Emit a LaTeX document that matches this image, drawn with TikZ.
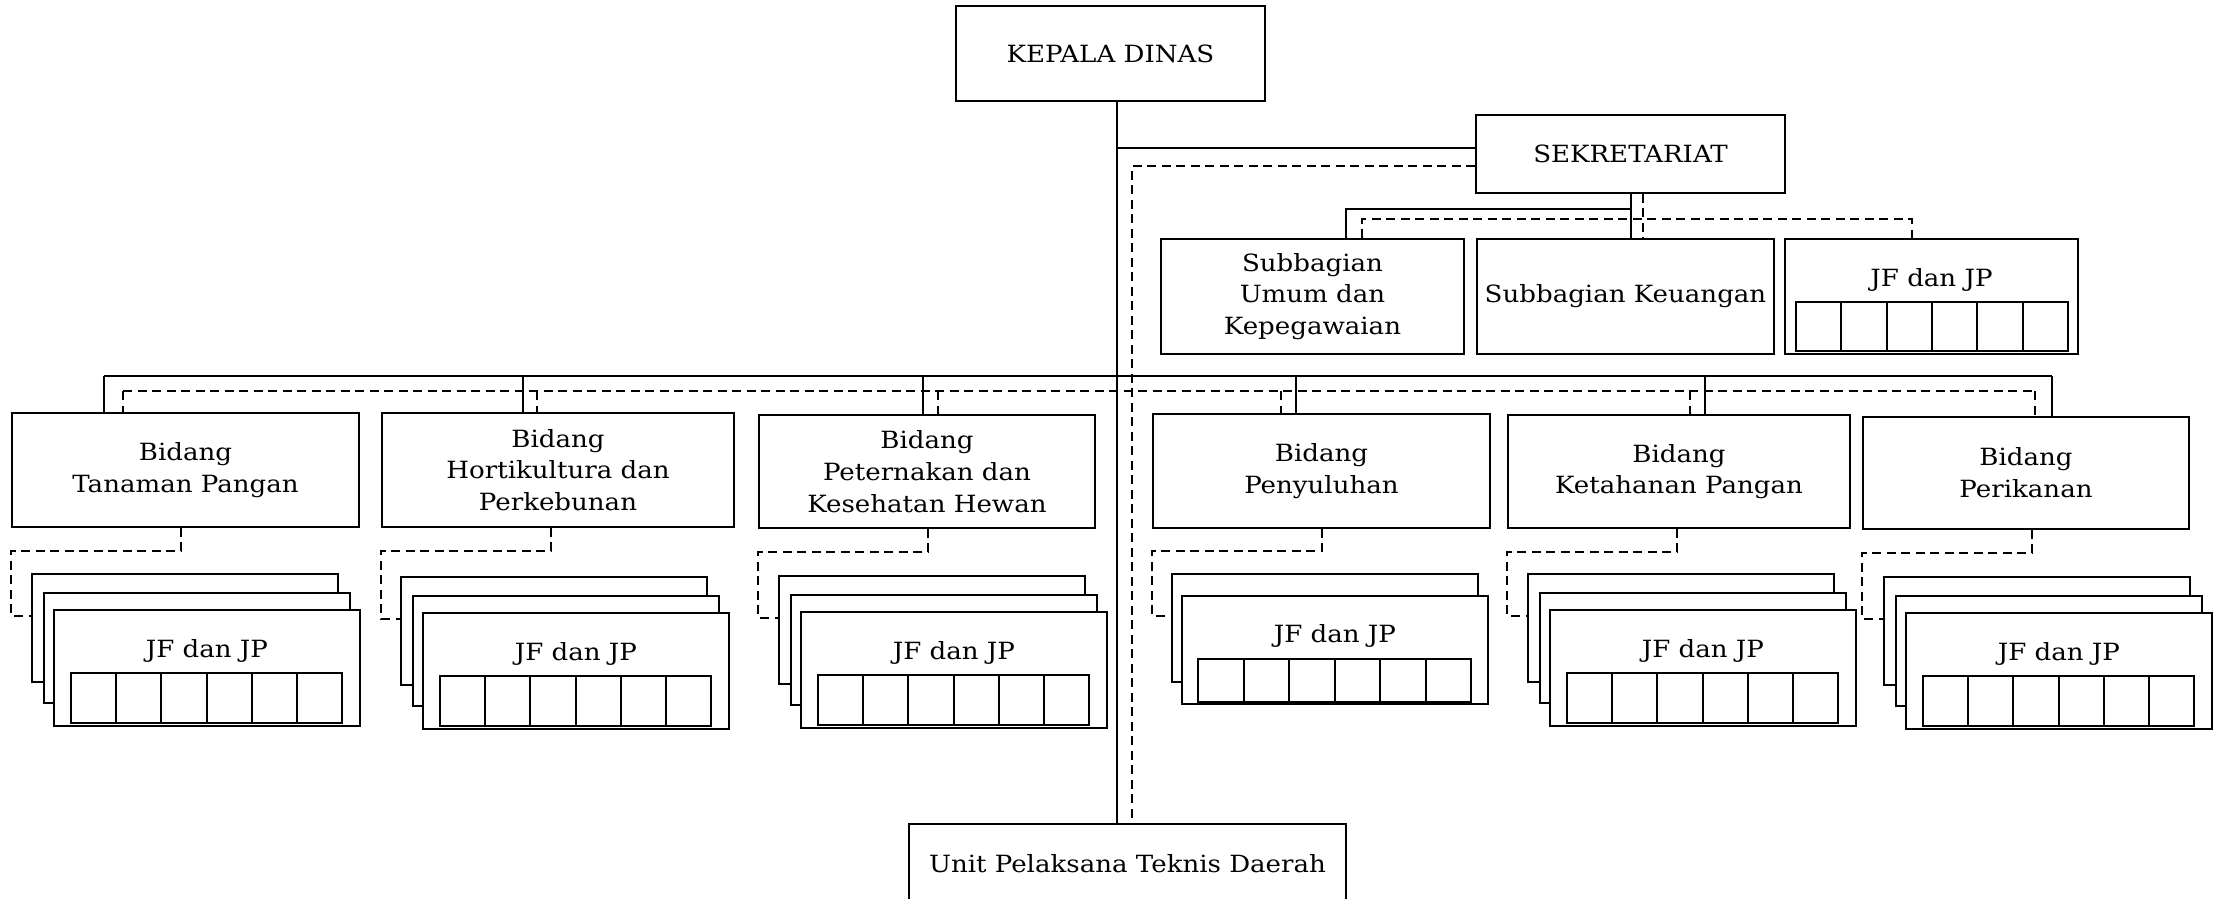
\documentclass[tikz,border=0pt]{standalone}
\usepackage{fontspec}
\setmainfont{DejaVu Serif}[FakeStretch=1.1]
\usetikzlibrary{calc}
\tikzset{
  box/.style={draw, line width=1.8pt, fill=white, inner sep=0pt, align=center,
    font=\fontsize{23.7}{31.7}\selectfont},
  lbl/.style={inner sep=0pt, font=\fontsize{23.7}{31.7}\selectfont},
  conn/.style={line width=1.8pt},
  dconn/.style={line width=1.6pt, dash pattern=on 9pt off 5.5pt},
  cell/.style={line width=2pt},
}
\newcommand\jfgrid[2]{% #1 = node, #2 = vertical offset of grid top
  \foreach \i in {0,...,5}
    \draw[cell] ($(#1.north west)+(18+\i*45.2,#2)$) rectangle ++(45.2,50);
}
\newcommand\jfstack[4]{% #1 id, #2 bidang node, #3 x, #4 y (back box top-left)
  \node[box, anchor=north west, minimum width=306, minimum height=108] (#1-a) at (#3,#4) {};
  \node[box, anchor=north west, minimum width=306, minimum height=110] (#1-b) at ({#3+12},{#4+19}) {};
  \node[box, anchor=north west, minimum width=306, minimum height=116] (#1-c) at ({#3+22},{#4+36}) {};
  \node[lbl] (#1-t) at ($(#1-c.north)+(0,42)$) {JF dan JP};
  \jfgrid{#1-c}{64}
  \draw[dconn] ($(#2.south west)+(170,0)$) |- ($(#2.south west)+(0,23)$) |- ($(#1-a.north west)+(0,43)$);
}
\begin{document}
\begin{tikzpicture}[x=1pt,y=-1pt]
\useasboundingbox (0,0) rectangle (2220,898);

% top level
\node[box, minimum width=309, minimum height=95] (kepala) at (1110.5,53.5) {KEPALA DINAS};
\node[box, minimum width=309, minimum height=78] (sekr) at (1630.5,154) {SEKRETARIAT};
\node[box, minimum width=303, minimum height=115] (umum) at (1312.5,296.5) {Subbagian\\Umum dan\\Kepegawaian};
\node[box, minimum width=297, minimum height=115] (keu) at (1625.5,296.5) {Subbagian Keuangan};
\node[box, minimum width=293, minimum height=115] (jfs) at (1931.5,296.5) {};
\node[lbl] (jfst) at ($(jfs.north)+(0,42)$) {JF dan JP};
\foreach \i in {0,...,5}
  \draw[cell] ($(jfs.north west)+(12+\i*45.3,64)$) rectangle ++(45.3,49);

% bidang
\node[box, minimum width=347, minimum height=114] (tan) at (185.5,470) {Bidang\\Tanaman Pangan};
\node[box, minimum width=352, minimum height=114] (hor) at (558,470) {Bidang\\Hortikultura dan\\Perkebunan};
\node[box, minimum width=336, minimum height=113] (pet) at (927,471.5) {Bidang\\Peternakan dan\\Kesehatan Hewan};
\node[box, minimum width=337, minimum height=114] (pen) at (1321.5,471) {Bidang\\Penyuluhan};
\node[box, minimum width=342, minimum height=113] (ket) at (1679,471.5) {Bidang\\Ketahanan Pangan};
\node[box, minimum width=326, minimum height=112] (per) at (2026,473) {Bidang\\Perikanan};

% UPTD
\node[box, minimum width=437, minimum height=80] (uptd) at (1127.5,864) {Unit Pelaksana Teknis Daerah};

% junction coordinates
\coordinate (tx) at (1117,0);
\coordinate (dx) at (1132,0);
\coordinate (hs) at (0,148);
\coordinate (hsd) at (0,166);
\coordinate (sx) at (1631,0);
\coordinate (sdx) at (1643,0);
\coordinate (y1) at (0,209);
\coordinate (y2) at (0,219);
\coordinate (ux) at (1346,0);
\coordinate (uxd) at (1362,0);
\coordinate (jx) at (1912,0);
\coordinate (ml) at (104,376);
\coordinate (mr) at (2052,376);
\coordinate (dl) at (123,391);
\coordinate (dr) at (2035,391);

% trunk and secretariat links
\draw[conn] (kepala.south -| tx) -- (uptd.north -| tx);
\draw[conn] (tx |- hs) -- (sekr.west |- hs);
\draw[dconn] (sekr.west |- hsd) -| (uptd.north -| dx);

% secretariat children
\draw[conn] (sekr.south -| sx) -- (keu.north -| sx);
\draw[conn] (sx |- y1) -| (umum.north -| ux);
\draw[dconn] (sekr.south -| sdx) -- (keu.north -| sdx);
\draw[dconn] (umum.north -| uxd) |- (jx |- y2) -- (jfs.north -| jx);

% main bus
\draw[conn] (ml) -- (mr);
\draw[dconn] (dl) -- (dr);
\foreach \n/\s/\d in {tan/104/123, hor/523/537, pet/923/938, pen/1296/1281, ket/1705/1690, per/2052/2035} {
  \coordinate (cs) at (\s,376);
  \coordinate (cd) at (\d,391);
  \draw[conn] (cs) -- (cs |- \n.north);
  \draw[dconn] (cd) -- (cd |- \n.north);
}

% JF stacks
\jfstack{s1}{tan}{31}{573}
\jfstack{s2}{hor}{400}{576}
\jfstack{s3}{pet}{778}{575}
\jfstack{s5}{ket}{1527}{573}
\jfstack{s6}{per}{1883}{576}

% penyuluhan: two boxes
\node[box, anchor=north west, minimum width=306, minimum height=108] (s4-a) at (1171,573) {};
\node[box, anchor=north west, minimum width=306, minimum height=108] (s4-c) at (1181,595) {};
\node[lbl] (s4-t) at ($(s4-c.north)+(0,41)$) {JF dan JP};
\foreach \i in {0,...,5}
  \draw[cell] ($(s4-c.north west)+(17+\i*45.5,64)$) rectangle ++(45.5,43);
\draw[dconn] ($(pen.south west)+(170,0)$) |- ($(pen.south west)+(0,22)$) |- ($(s4-a.north west)+(0,43)$);
\end{tikzpicture}
\end{document}
